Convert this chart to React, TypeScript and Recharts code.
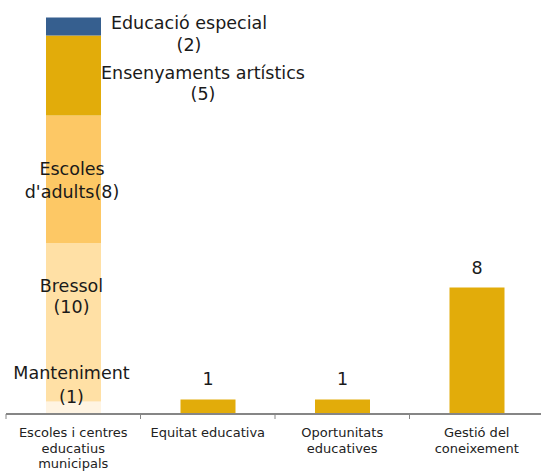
import React from 'react';
import { BarChart, Bar, XAxis, YAxis, LabelList } from 'recharts';

const categories = [
  'Escoles i centres educatius municipals',
  'Equitat educativa',
  'Oportunitats educatives',
  'Gestió del coneixement',
];
const categoryLines = [
  ['Escoles i centres', 'educatius', 'municipals'],
  ['Equitat educativa'],
  ['Oportunitats', 'educatives'],
  ['Gestió del', 'coneixement'],
];
const segmentKeys = ['manteniment', 'bressol', 'escoles', 'ensenyaments', 'educacio'];
const segmentValues = [0.79, 10.04, 8.1, 5.07, 1.14];
const segmentLabels = [
  ['Manteniment', '(1)'],
  ['Bressol', '(10)'],
  ['Escoles', "d'adults(8)"],
  ['Ensenyaments artístics', '(5)'],
  ['Educació especial', '(2)'],
];
const otherValues = [null, 0.92, 0.92, 8.02];
const otherLabels = ['', '1', '1', '8'];

const segmentColors = ['#FFF4E2', '#FFE0A5', '#FDC865', '#E2AC0A', '#365F8F'];
const gold = '#E2AC0A';
// label placement relative to segment centre: dx, dy (first baseline), line height
const segmentLabelStyle = [
  { dx: -2, dy: -28.5, lh: 24 },
  { dx: -2, dy: -30, lh: 21 },
  { dx: -1.5, dy: -4.5, lh: 23 },
  { dx: 129.5, dy: 3.3, lh: 21 },
  { dx: 115.5, dy: 2.3, lh: 22 },
];

const data = categories.map((cat, i) => {
  const row: any = { cat, valor: otherValues[i], valorLabel: otherLabels[i] };
  if (i === 0) segmentKeys.forEach((k, j) => (row[k] = segmentValues[j]));
  return row;
});

const FONT = '"DejaVu Sans", sans-serif';
const HALF = 67.25;

const Tick = (props: any) => {
  const { x, y, payload, index } = props;
  const lines = categoryLines[index] ?? [payload.value];
  return (
    <g>
      <line x1={x - HALF} x2={x - HALF} y1={y} y2={y + 5} stroke="#868686" strokeWidth={1} />
      {index === categories.length - 1 && (
        <line x1={x + HALF} x2={x + HALF} y1={y} y2={y + 5} stroke="#868686" strokeWidth={1} />
      )}
      {lines.map((l: string, k: number) => (
        <text key={k} x={x} y={y + 23 + k * 15.7} textAnchor="middle" fontFamily={FONT} fontSize={13} fill="#222">
          {l}
        </text>
      ))}
    </g>
  );
};

const makeSegLabel = (j: number) => (p: any) => {
  if (p.value == null || p.index !== 0) return null;
  const vb = p.viewBox ?? p;
  const x = vb.x ?? p.x;
  const y = vb.y ?? p.y;
  const w = vb.width ?? p.width;
  const h = vb.height ?? p.height;
  const cx = x + w / 2 + segmentLabelStyle[j].dx;
  const cy = y + h / 2 + segmentLabelStyle[j].dy;
  return (
    <g>
      {segmentLabels[j].map((l, k) => (
        <text key={k} x={cx} y={cy + k * segmentLabelStyle[j].lh} textAnchor="middle" fontFamily={FONT} fontSize={17.5} fill="#1a1a1a">
          {l}
        </text>
      ))}
    </g>
  );
};

export default function App() {
  return (
    <div style={{ position: 'absolute', left: 0, top: 0, width: 541, height: 475, overflow: 'hidden', background: '#fff' }}>
      <BarChart width={544} height={475} data={data} margin={{ top: 4, right: 0, bottom: 0, left: 6 }} barSize={55}>
        <YAxis hide domain={[0, 26]} />
        <XAxis
          dataKey="cat"
          interval={0}
          height={61}
          tickLine={false}
          tickSize={0}
          tickMargin={0}
          axisLine={{ stroke: '#868686', strokeWidth: 2 }}
          tick={<Tick />}
        />
        {segmentKeys.map((k, j) => (
          <Bar key={k} dataKey={k} stackId="a" fill={segmentColors[j]} isAnimationActive={false}>
            <LabelList dataKey={k} content={makeSegLabel(j)} />
          </Bar>
        ))}
        <Bar dataKey="valor" stackId="a" fill={gold} isAnimationActive={false}>
          <LabelList dataKey="valorLabel" position="top" offset={14} fontFamily={FONT} fontSize={17.5} fill="#1a1a1a" />
        </Bar>
      </BarChart>
    </div>
  );
}
